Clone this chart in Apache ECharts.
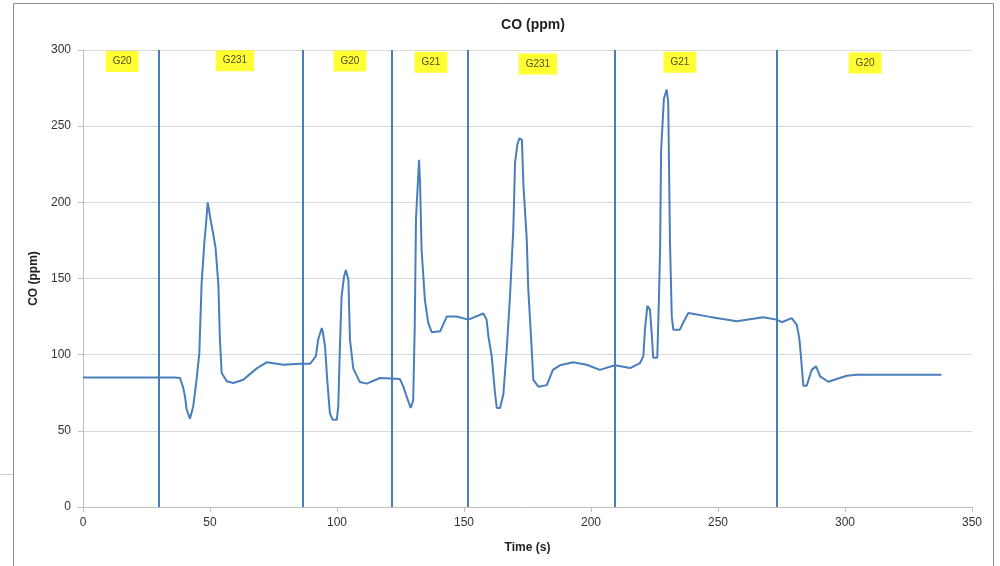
<!DOCTYPE html>
<html>
<head>
<meta charset="utf-8">
<script src="https://cdn.jsdelivr.net/npm/echarts@6/dist/echarts.min.js"></script>
<style>
  html, body { margin: 0; padding: 0; background: #fff; }
  #chart { width: 1000px; height: 566px; }
</style>
</head>
<body>
<div id="chart"></div>
<script>
// time (s) and CO (ppm)
const times = [0, 36, 38.2, 39.5, 40.2, 40.8, 42.1, 43.4, 44.8, 45.8, 46.7, 47.8, 48.3, 49.1, 49.7, 50.4, 51.3, 52.2, 53.3, 53.9, 54.6,
  56.6, 59.2, 63.1, 68.4, 72.3, 78.9, 85.4, 89.4, 91.7, 92.6, 94, 94.4, 95.3, 96.2, 97.2, 98.3, 99.9, 100.5, 101.2, 101.8,
  102.8, 103.5, 104.5, 105.1, 106.4, 109, 111.7, 116.9, 124.8, 126.1, 127.4, 129, 130, 130.6, 131.1, 132.3, 132.7, 133.3,
  134.6, 135.9, 137.3, 140.6, 143.2, 147.1, 151.7, 157.6, 158.9, 159.6, 160.9, 162.2, 162.9, 164.2, 165.5, 166.8, 168.1,
  169.4, 170.1, 171, 171.8, 172.8, 173.4, 174.7, 175.3, 176.6, 177.3, 179.3, 182.6, 185, 187.8, 193, 198.3, 203.5, 209.4,
  215.4, 219.3, 220.6, 221.3, 222.2, 223.2, 223.9, 224.5, 226.1, 226.8, 227.2, 227.6, 228.7, 229.8, 230.4, 231.1, 231.8,
  232.4, 235, 236.3, 238.3, 246.9, 257.4, 267.8, 273.1, 275.1, 279, 281, 282, 282.7, 283.6, 284.9, 286.9, 288.6, 290.2,
  293.4, 296.7, 300.7, 304.6, 338];
const coValues = [85, 85, 84.7, 78, 72, 64, 58, 66, 85, 101, 147, 174, 183, 200, 199, 187, 179, 170, 146, 110, 88,
  82.5, 81.4, 83.5, 91, 95, 93.4, 94, 94, 99, 110, 117.5, 115, 105.5, 82.5, 61.6, 57.2, 57.2, 66, 108, 138,
  151.5, 155.5, 149, 110, 91, 82, 81, 84.7, 84, 79, 72.6, 65, 70, 117.6, 189, 228, 213, 169,
  136, 121, 114.7, 115.3, 125, 125, 123, 127, 123, 112, 99, 75, 65, 65, 74, 103, 138,
  182, 226, 238, 242, 241, 211, 176, 143, 105.5, 83.5, 79, 80, 90, 93, 95, 93.4, 90, 93,
  91.2, 94.5, 99, 117.6, 132, 129.6, 114, 98, 98, 140.6, 169, 234, 268, 274, 266, 173.5, 125,
  116.4, 116.4, 121, 127.4, 124.8, 122, 124.5, 123, 121.3, 124, 119.7, 111, 98, 79.6, 79.6, 90, 92.3, 85.7,
  82.2, 84, 86.2, 86.8, 86.8];

// gas change markers
const switchTimes = [30, 86.5, 121.5, 151.5, 209.5, 273];
const gasNames = ['G20', 'G231', 'G20', 'G21', 'G231', 'G21', 'G20'];
const gasLabelX = [15.4, 59.8, 105.1, 137, 179.1, 235, 307.9];
const gasLabelY = [292.4, 293, 292.8, 292, 290.8, 292, 291.4];

const chart = echarts.init(document.getElementById('chart'));

const option = {
  animation: false,
  backgroundColor: '#fff',
  textStyle: { fontFamily: 'Liberation Sans, Arial, sans-serif' },
  title: {
    text: 'CO (ppm)',
    left: 528,
    top: 13,
    textAlign: 'center',
    textStyle: { fontSize: 14, fontWeight: 'bold', color: '#222' }
  },
  grid: { left: 83, right: 28, top: 50, bottom: 59 },
  xAxis: {
    type: 'value',
    min: 0,
    max: 350,
    interval: 50,
    name: 'Time (s)',
    nameLocation: 'middle',
    nameGap: 35,
    nameTextStyle: { fontSize: 12, fontWeight: 'bold', color: '#222' },
    axisLine: { show: true, lineStyle: { color: '#bfbfbf' } },
    axisTick: { show: true, length: 5, lineStyle: { color: '#bfbfbf' } },
    axisLabel: { fontSize: 12, color: '#333', margin: 10 },
    splitLine: { show: false }
  },
  yAxis: {
    type: 'value',
    min: 0,
    max: 300,
    interval: 50,
    name: 'CO (ppm)',
    nameLocation: 'middle',
    nameGap: 40,
    nameTextStyle: { fontSize: 12, fontWeight: 'bold', color: '#222' },
    axisLine: { show: true, lineStyle: { color: '#bfbfbf' } },
    axisTick: { show: true, length: 5, lineStyle: { color: '#bfbfbf' } },
    axisLabel: { fontSize: 12, color: '#333', margin: 12 },
    splitLine: { show: true, lineStyle: { color: '#d9d9d9', width: 1 } }
  },
  series: [
    {
      type: 'line',
      data: times.map((t, i) => [t, coValues[i]]),
      showSymbol: false,
      lineStyle: { color: '#4a7ebb', width: 2 },
      itemStyle: { color: '#4a7ebb' },
      markLine: {
        silent: true,
        symbol: 'none',
        label: { show: false },
        lineStyle: { color: '#4a7ebb', width: 2, type: 'solid' },
        data: switchTimes.map(x => ({ xAxis: x }))
      }
    },
    {
      type: 'scatter',
      symbolSize: 0,
      data: gasNames.map((n, i) => ({ value: [gasLabelX[i], gasLabelY[i]], name: n })),
      label: {
        show: true,
        position: 'inside',
        formatter: p => p.name,
        fontSize: 10,
        color: '#1a1a1a',
        backgroundColor: '#ffff00',
        padding: [6, 7, 5, 7]
      }
    }
  ],
  graphic: [
    {
      type: 'rect',
      shape: { x: 13.5, y: 3.5, width: 980, height: 600 },
      style: { fill: 'none', stroke: '#8c8c8c', lineWidth: 1 }
    },
    {
      type: 'line',
      shape: { x1: 0, y1: 474.5, x2: 13, y2: 474.5 },
      style: { stroke: '#d0d0d0', lineWidth: 1 }
    }
  ]
};

chart.setOption(option);
</script>
</body>
</html>
